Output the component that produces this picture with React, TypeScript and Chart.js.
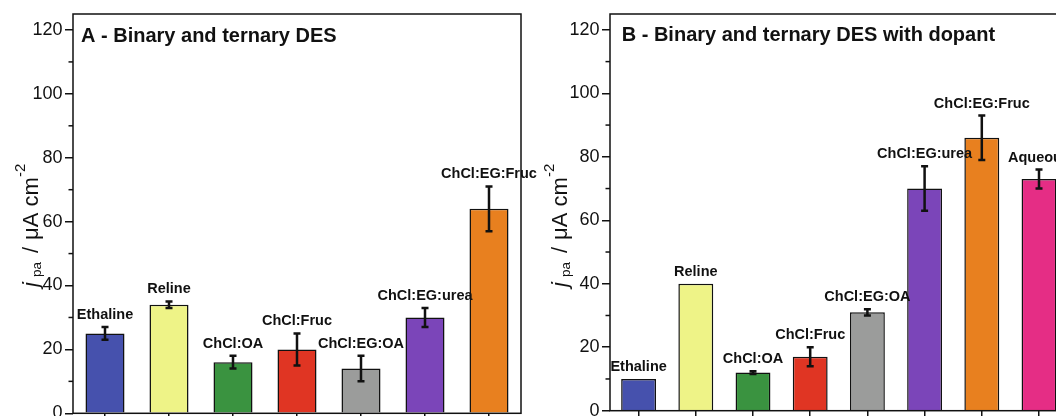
import React, { useEffect, useRef } from "react";
import { Chart, registerables } from "chart.js";

Chart.register(...registerables);

// ---------- data ----------
const categoriesA = ["Ethaline", "Reline", "ChCl:OA", "ChCl:Fruc", "ChCl:EG:OA", "ChCl:EG:urea", "ChCl:EG:Fruc"];
const valuesA = [25, 34, 16, 20, 14, 30, 64];
const errorsA = [2, 1, 2, 5, 4, 3, 7];

const categoriesB = ["Ethaline", "Reline", "ChCl:OA", "ChCl:Fruc", "ChCl:EG:OA", "ChCl:EG:urea", "ChCl:EG:Fruc", "Aqueous"];
const valuesB = [10, 40, 12, 17, 31, 70, 86, 73];
const errorsB = [0, 0, 0.4, 3, 1, 7, 7, 3];

const yMajorTicks = [0, 20, 40, 60, 80, 100, 120];
const yMinorTicks = [10, 30, 50, 70, 90, 110];
const yMax = 125;

const titleA = "A - Binary and ternary DES";
const titleB = "B - Binary and ternary DES with dopant";

// ---------- styles ----------
const palette = ["#4651ad", "#eef387", "#3a9340", "#e03523", "#9b9c9b", "#7b45b9", "#e8801f", "#e52d85"];
const FONT = '"Liberation Sans", Arial, Helvetica, sans-serif';
const INK = "#111111";

type PanelCfg = {
  categories: string[];
  values: number[];
  errors: number[];
  title: string;
  titleDx: number;
  titleBaseline: number;
  yAxisWidth: number;
  padRight: number;
  xAxisHeight: number;
  yTitleX: number;
  yTitleStartY: number;
};

function makeDecorPlugin(cfg: PanelCfg) {
  return {
    id: "decor",
    afterDatasetsDraw(chart: any) {
      const ctx = chart.ctx;
      const xs = chart.scales.x;
      const ys = chart.scales.y;
      const area = chart.chartArea;
      ctx.save();
      // error bars
      ctx.strokeStyle = INK;
      ctx.lineWidth = 2.5;
      cfg.values.forEach((v, i) => {
        const e = cfg.errors[i];
        if (!e) return;
        const x = xs.getPixelForValue(i);
        const yt = ys.getPixelForValue(v + e);
        const yb = ys.getPixelForValue(v - e);
        ctx.beginPath();
        ctx.moveTo(x, yt);
        ctx.lineTo(x, yb);
        ctx.moveTo(x - 3.5, yt);
        ctx.lineTo(x + 3.5, yt);
        ctx.moveTo(x - 3.5, yb);
        ctx.lineTo(x + 3.5, yb);
        ctx.stroke();
      });
      // bar labels
      ctx.fillStyle = INK;
      ctx.font = `bold 14.5px ${FONT}`;
      ctx.textAlign = "center";
      ctx.textBaseline = "middle";
      cfg.categories.forEach((c, i) => {
        const x = xs.getPixelForValue(i);
        const y = ys.getPixelForValue(cfg.values[i] + cfg.errors[i]) - 12;
        ctx.fillText(c, x, y);
      });
      // frame
      ctx.strokeStyle = INK;
      ctx.lineWidth = 1.5;
      ctx.strokeRect(area.left, area.top, area.right - area.left, area.bottom - area.top);
      // minor ticks
      ctx.lineWidth = 1.5;
      yMinorTicks.forEach((t) => {
        const y = ys.getPixelForValue(t);
        ctx.beginPath();
        ctx.moveTo(area.left - 4.5, y);
        ctx.lineTo(area.left, y);
        ctx.stroke();
      });
      // panel title
      ctx.font = `bold 20px ${FONT}`;
      ctx.textAlign = "left";
      ctx.textBaseline = "alphabetic";
      ctx.fillText(cfg.title, area.left + cfg.titleDx, cfg.titleBaseline);
      // y axis title: j_pa / μA cm^-2
      ctx.translate(cfg.yTitleX, cfg.yTitleStartY);
      ctx.rotate(-Math.PI / 2);
      ctx.font = `italic 22px ${FONT}`;
      ctx.fillText("j", 0, 0);
      ctx.font = `13.5px ${FONT}`;
      ctx.fillText("pa", 10, 3);
      ctx.font = `22px ${FONT}`;
      ctx.fillText("/", 34, 0);
      ctx.fillText("\u03bcA cm", 47, 0);
      ctx.font = `15px ${FONT}`;
      ctx.fillText("-2", 110, -13);
      ctx.restore();
    },
  };
}

function makeConfig(cfg: PanelCfg): any {
  return {
    type: "bar",
    data: {
      labels: cfg.categories,
      datasets: [
        {
          data: cfg.values,
          backgroundColor: palette.slice(0, cfg.values.length),
          borderColor: INK,
          borderWidth: 1.5,
          barPercentage: 0.61,
          categoryPercentage: 1,
        },
      ],
    },
    options: {
      animation: false,
      responsive: false,
      events: [],
      layout: { padding: { left: 0, top: 14, right: cfg.padRight, bottom: 0 } },
      plugins: { legend: { display: false }, tooltip: { enabled: false } },
      scales: {
        x: {
          offset: true,
          grid: { display: true, offset: false, drawOnChartArea: false, tickLength: 8, color: INK, lineWidth: 1.5 },
          border: { display: false },
          ticks: { display: false },
          afterFit: (s: any) => {
            s.height = cfg.xAxisHeight;
          },
        },
        y: {
          min: 0,
          max: yMax,
          afterBuildTicks: (s: any) => {
            s.ticks = yMajorTicks.map((v) => ({ value: v }));
          },
          ticks: { color: INK, font: { family: FONT, size: 18 }, padding: 2.5 },
          grid: { drawOnChartArea: false, tickLength: 8, color: INK, lineWidth: 1.5 },
          border: { display: false },
          afterFit: (s: any) => {
            s.width = cfg.yAxisWidth;
          },
        },
      },
    },
    plugins: [makeDecorPlugin(cfg)],
  };
}

const panelA: PanelCfg = {
  categories: categoriesA,
  values: valuesA,
  errors: errorsA,
  title: titleA,
  titleDx: 8,
  titleBaseline: 42,
  yAxisWidth: 73,
  padRight: 19,
  xAxisHeight: 470 - 413.3,
  yTitleX: 38.3,
  yTitleStartY: 287,
};

const panelB: PanelCfg = {
  categories: categoriesB,
  values: valuesB,
  errors: errorsB,
  title: titleB,
  titleDx: 11.7,
  titleBaseline: 40.5,
  yAxisWidth: 70,
  padRight: 12.4,
  xAxisHeight: 470 - 410.7,
  yTitleX: 27.3,
  yTitleStartY: 287,
};

function Panel({ cfg, left }: { cfg: PanelCfg; left: number }) {
  const ref = useRef<HTMLCanvasElement | null>(null);
  useEffect(() => {
    if (!ref.current) return;
    const chart = new Chart(ref.current, makeConfig(cfg));
    return () => chart.destroy();
  }, [cfg]);
  return (
    <canvas
      ref={ref}
      width={540}
      height={470}
      style={{ position: "absolute", left, top: 0, width: 540, height: 470, display: "block" }}
    />
  );
}

export default function App() {
  return (
    <div
      style={{
        position: "fixed",
        left: 0,
        top: 0,
        width: 1056,
        height: 416,
        overflow: "hidden",
        background: "#ffffff",
      }}
    >
      <Panel cfg={panelA} left={0} />
      <Panel cfg={panelB} left={540} />
    </div>
  );
}
